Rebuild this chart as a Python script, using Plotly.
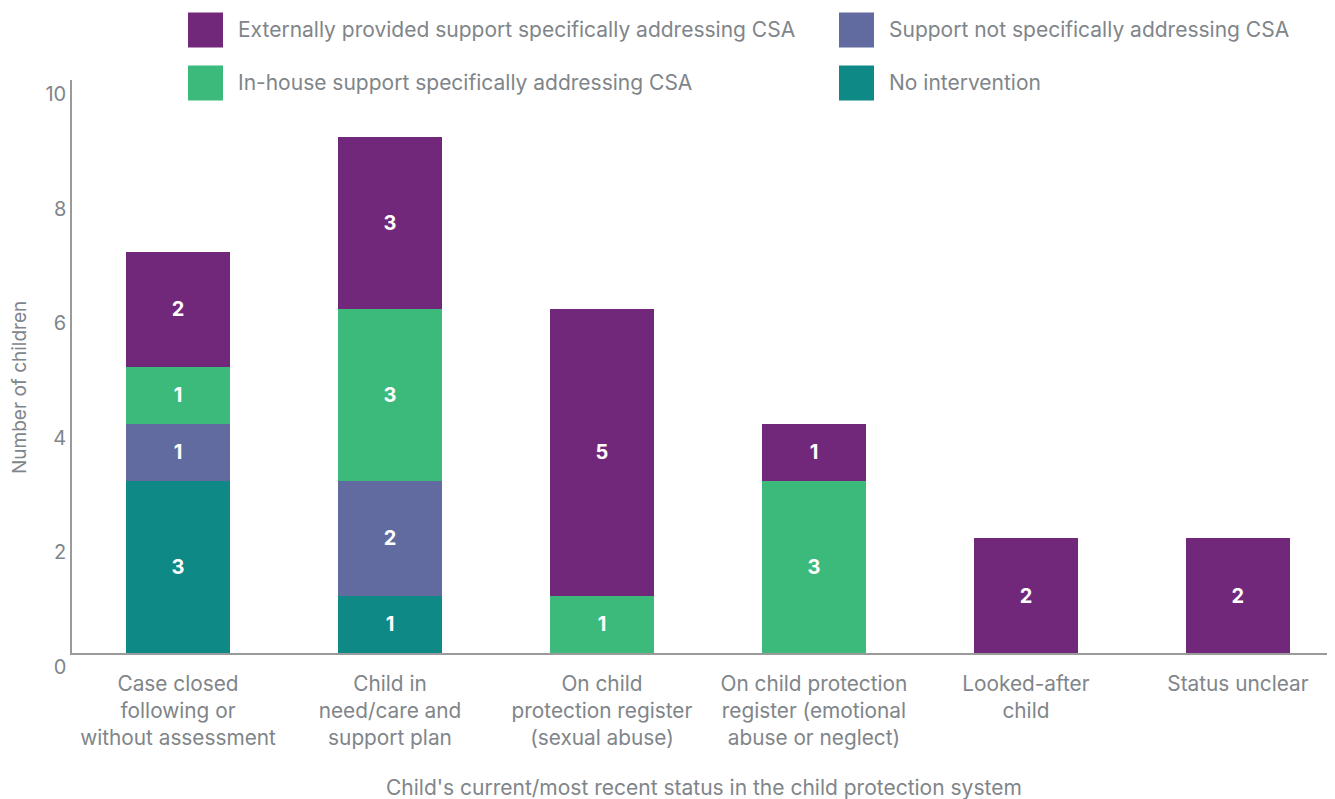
import plotly.graph_objects as go

categories = [
    "Case closed<br>following or<br>without assessment",
    "Child in<br>need/care and<br>support plan",
    "On child<br>protection register<br>(sexual abuse)",
    "On child protection<br>register (emotional<br>abuse or neglect)",
    "Looked-after<br>child",
    "Status unclear",
]
series_names = [
    "No intervention",
    "Support not specifically addressing CSA",
    "In-house support specifically addressing CSA",
    "Externally provided support specifically addressing CSA",
]
no_intervention = [3, 1, None, None, None, None]
support_not_csa = [1, 2, None, None, None, None]
inhouse_csa = [1, 3, 1, 3, None, None]
external_csa = [2, 3, 5, 1, 2, 2]
y_ticks = [0, 2, 4, 6, 8, 10]

colors = ["#0f8985", "#626ba0", "#3bba7b", "#72287a"]
values = [no_intervention, support_not_csa, inhouse_csa, external_csa]

FONT = "Inter, Liberation Sans, Arial, sans-serif"
GREY = "#80858a"

fig = go.Figure()
xs = list(range(len(categories)))
for name, vals, col in zip(series_names, values, colors):
    fig.add_trace(go.Bar(
        x=xs, y=vals, name=name, marker=dict(color=col, line=dict(width=0)),
        text=[("" if v is None else str(v)) for v in vals],
        textposition="inside", insidetextanchor="middle", textangle=0,
        textfont=dict(color="white", size=20, family=FONT, weight="bold"),
        showlegend=False,
    ))

fig.update_layout(
    barmode="stack", bargap=0.51,
    width=1327, height=791,
    margin=dict(l=64, r=0, t=72, b=146),
    plot_bgcolor="white", paper_bgcolor="white",
    font=dict(family=FONT, color=GREY, size=20),
    uniformtext=dict(minsize=20, mode="show"),
)
fig.update_xaxes(
    tickmode="array", tickvals=xs, ticktext=categories,
    range=[-0.5, 5.458], showline=True, linecolor="#9a9a9a", linewidth=1.5,
    ticks="", ticklabelstandoff=11, tickfont=dict(size=20.8, color=GREY),
    showgrid=False, zeroline=False,
)
fig.update_yaxes(
    range=[0, 10], tickmode="array", tickvals=y_ticks,
    showline=True, linecolor="#9a9a9a", linewidth=1.5, ticks="",
    ticklabelposition="outside bottom", tickfont=dict(size=20, color=GREY),
    showgrid=False, zeroline=False,
)

# axis titles
fig.add_annotation(text="Number of children", xref="paper", yref="paper",
                   x=(19 - 72) / 1263, y=(653 - 388) / 573, textangle=-90,
                   showarrow=False, font=dict(size=19, color=GREY),
                   xanchor="center", yanchor="middle")
fig.add_annotation(text="Child's current/most recent status in the child protection system",
                   xref="paper", yref="paper", x=(704 - 72) / 1263, y=(653 - 787) / 573,
                   showarrow=False, font=dict(size=21, color=GREY),
                   xanchor="center", yanchor="middle")

# manual legend (2 x 2)
legend_items = [
    (series_names[3], colors[3], 188, 30),
    (series_names[1], colors[1], 839, 30),
    (series_names[2], colors[2], 188, 83),
    (series_names[0], colors[0], 839, 83),
]
for name, col, px, py in legend_items:
    fig.add_shape(type="rect", xref="paper", yref="paper",
                  x0=(px - 72) / 1263, x1=(px + 35 - 72) / 1263,
                  y0=(653 - (py + 17.5)) / 573, y1=(653 - (py - 17.5)) / 573,
                  fillcolor=col, line=dict(width=0))
    fig.add_annotation(text=name, xref="paper", yref="paper",
                       x=(px + 48 - 72) / 1263, y=(653 - py) / 573,
                       xanchor="left", yanchor="middle", showarrow=False,
                       font=dict(size=21, color=GREY))

fig.write_html("out.html")
